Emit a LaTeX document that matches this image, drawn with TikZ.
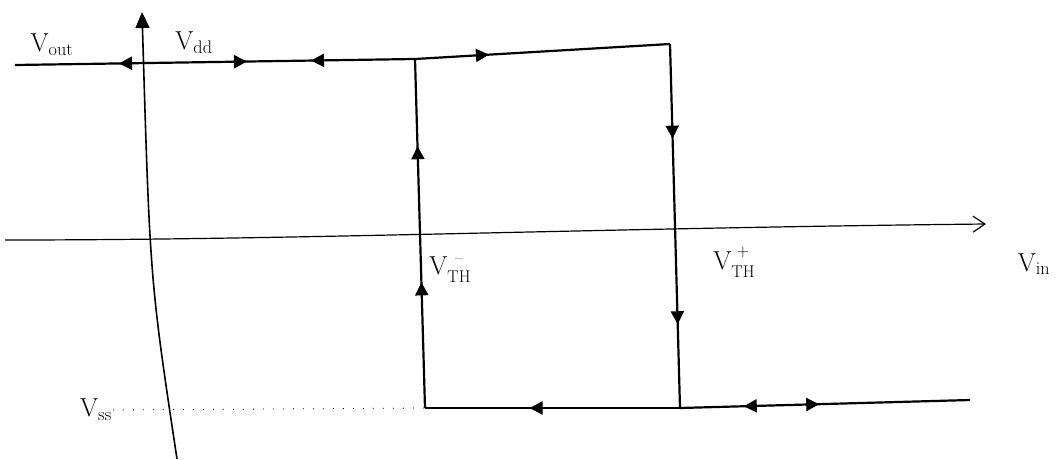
\documentclass[tikz,border=0pt]{standalone}
\usepackage{fontspec}
\usepackage{tikz}
\usetikzlibrary{arrows.meta,decorations.markings}
\newcommand{\thsign}[1]{\raisebox{-0.7ex}{\shortstack[c]{\fontsize{17}{17}\selectfont #1\\[5pt]\fontsize{17}{17}\selectfont TH}}}
\tikzset{
  loopline/.style={line width=2.2pt,line join=miter},
  axis/.style={line width=1.6pt},
  fwd/.style={postaction={decorate,decoration={markings,
    mark=at position #1 with {\arrow{Triangle[length=13pt,width=13pt]}}}}},
  bwd/.style={postaction={decorate,decoration={markings,
    mark=at position #1 with {\arrowreversed{Triangle[length=13pt,width=13pt]}}}}},
  lbl/.style={font=\fontsize{26}{30}\selectfont,inner sep=1pt}}

\begin{document}
\begin{tikzpicture}[x=1pt,y=-1pt]
\useasboundingbox (0,0) rectangle (1064,459);
% corners of the loop
\coordinate (tl) at (15,65);
\coordinate (c1) at (415,59);
\coordinate (c2) at (670,44);
\coordinate (c3) at (680,408);
\coordinate (c4) at (425,408);
\coordinate (br) at (970,400);
% axes
\coordinate (yb) at (177,459);
\coordinate (yt) at (142,12);
\coordinate (xl) at (5,240);
\coordinate (xr) at (986,224);
\draw[axis,-{Triangle[length=16pt,width=14pt]}] (yb) .. controls (150,280) .. (yt);
\draw[axis,line width=1.2pt,-{Straight Barb[length=12pt,width=16pt]}] (xl) .. controls (300,240) and (600,228) .. (xr);
% labels
\node[lbl] (vout) at (52,45) {V\textsubscript{out}};
\node[lbl] (vdd)  at (194,43) {V\textsubscript{dd}};
\node[lbl] (vthm) at (450,270) {V\thsign{--}};
\node[lbl] (vthp) at (734,262) {V\thsign{+}};
\node[lbl] (vin)  at (1034,264) {V\textsubscript{in}};
\node[lbl] (vss)  at (96,410) {V\textsubscript{ss}};
\draw[line width=0.8pt,dash pattern=on 1pt off 9pt] (vss.east) -- (c4);
% hysteresis loop
\draw[loopline,bwd=0.26,fwd=0.58,bwd=0.74] (tl) -- (c1);
\draw[loopline,fwd=0.29] (c1) -- (c2);
\draw[loopline,fwd=0.26,fwd=0.77] (c2) -- (c3);
\draw[loopline,bwd=0.22,fwd=0.48] (c3) -- (br);
\draw[loopline,bwd=0.41] (c4) -- (c3);
\draw[loopline,fwd=0.36,fwd=0.75] (c4) -- (c1);
\end{tikzpicture}
\end{document}
